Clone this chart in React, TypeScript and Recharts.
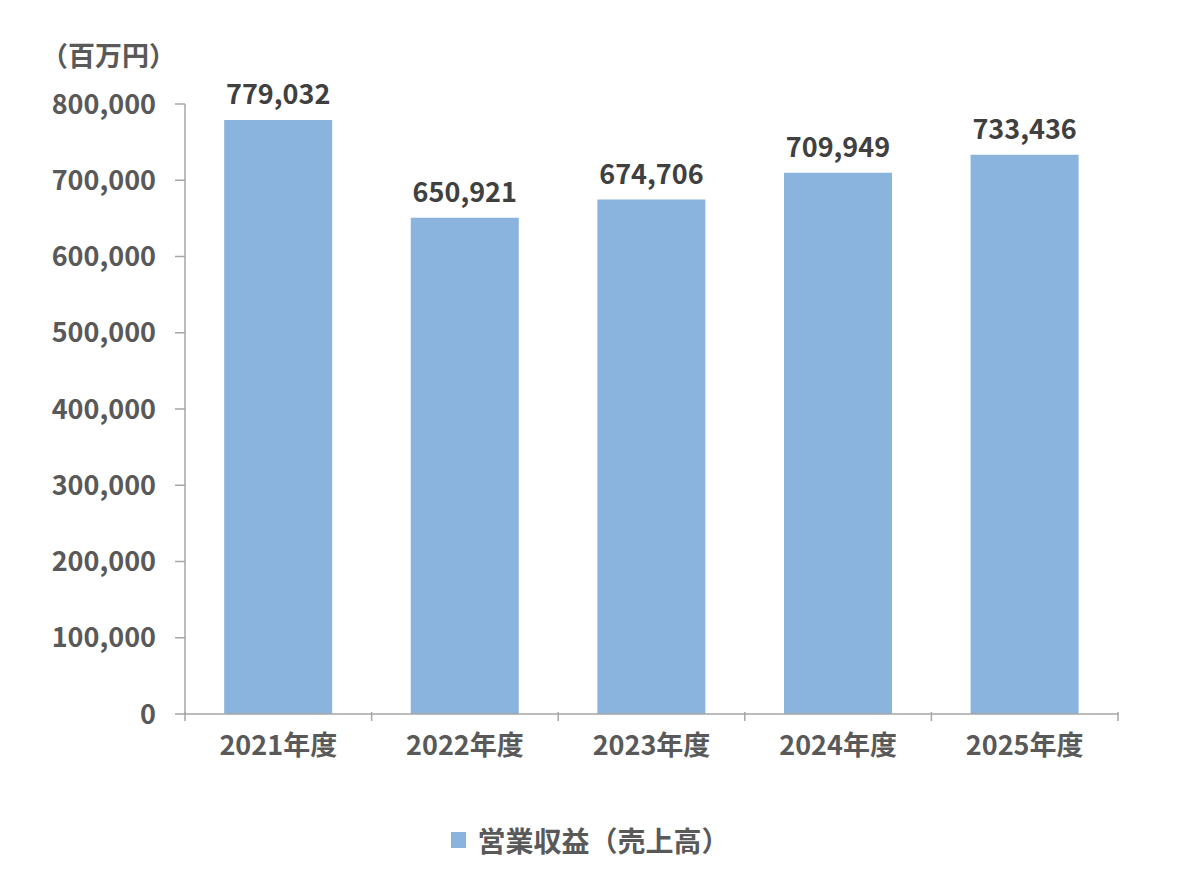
import React from 'react';
import { BarChart, Bar, XAxis, YAxis, Legend, LabelList } from 'recharts';

const years = ['2021年度', '2022年度', '2023年度', '2024年度', '2025年度'];
const revenue = [779032, 650921, 674706, 709949, 733436];
const yTicks = [0, 100000, 200000, 300000, 400000, 500000, 600000, 700000, 800000];
const seriesName = '営業収益（売上高）';
const unitLabel = '（百万円）';

const FONT = '"Noto Sans CJK JP", "Noto Sans", sans-serif';
const BAR_COLOR = '#8AB4DE';
const AXIS_COLOR = '#A6A6A6';
const TEXT_COLOR = '#595959';
const FS = 27;

const data = years.map((y, i) => ({ year: y, revenue: revenue[i] }));

// x ticks sit on category boundaries, not under the bars
const BAND = (1118 - 185) / years.length;

const XTick = (props: any) => {
  const { x, y, payload, index } = props;
  const left = x - BAND / 2;
  return (
    <g>
      <line x1={left} y1={y - 10} x2={left} y2={y - 1} stroke={AXIS_COLOR} strokeWidth={1.5} />
      {index === years.length - 1 && (
        <line x1={left + BAND} y1={y - 10} x2={left + BAND} y2={y - 1} stroke={AXIS_COLOR} strokeWidth={1.5} />
      )}
      <text x={x} y={y + 33} textAnchor="middle" fill={TEXT_COLOR} fontSize={FS} fontWeight="bold" fontFamily={FONT}>
        {payload.value}
      </text>
    </g>
  );
};

const LegendContent = () => (
  <div style={{ display: 'flex', justifyContent: 'center', alignItems: 'center', fontFamily: FONT, marginLeft: 0 }}>
    <span style={{ display: 'inline-block', width: 15, height: 16, background: BAR_COLOR, marginRight: 11 }} />
    <span style={{ fontSize: 28, fontWeight: 'bold', color: TEXT_COLOR, lineHeight: '30px' }}>{seriesName}</span>
  </div>
);

const App = () => {
  return (
    <div style={{ position: 'absolute', left: 0, top: 0, width: 1181, height: 886, background: '#fff' }}>
      <div
        style={{
          position: 'absolute',
          left: 41,
          top: 41,
          fontFamily: FONT,
          fontSize: FS,
          lineHeight: '27px',
          fontWeight: 'bold',
          color: TEXT_COLOR,
        }}
      >
        {unitLabel}
      </div>
      <BarChart
        width={1181}
        height={886}
        data={data}
        margin={{ top: 104, right: 63, left: 0, bottom: 0 }}
        barCategoryGap="21%"
      >
        <XAxis
          dataKey="year"
          height={142}
          tickLine={false}
          axisLine={{ stroke: AXIS_COLOR, strokeWidth: 1.5 }}
          tick={<XTick />}
          interval={0}
        />
        <YAxis
          width={185}
          domain={[0, 800000]}
          ticks={yTicks}
          interval={0}
          tickFormatter={(v: number) => v.toLocaleString('en-US')}
          axisLine={{ stroke: AXIS_COLOR, strokeWidth: 1.5 }}
          tickLine={{ stroke: AXIS_COLOR, strokeWidth: 1.5 }}
          tickSize={10}
          tickMargin={19}
          tick={{ fill: TEXT_COLOR, fontSize: FS, fontWeight: 'bold', fontFamily: FONT }}
        />
        <Legend
          content={<LegendContent />}
          wrapperStyle={{ position: 'absolute', top: 825, left: 0, width: 1181, height: 30 }}
        />
        <Bar dataKey="revenue" name={seriesName} fill={BAR_COLOR} isAnimationActive={false}>
          <LabelList
            dataKey="revenue"
            position="top"
            offset={16}
            formatter={(v: any) => Number(v).toLocaleString('en-US')}
            style={{ fill: '#404040', fontSize: FS, fontWeight: 'bold', fontFamily: FONT }}
          />
        </Bar>
      </BarChart>
    </div>
  );
};

export default App;
